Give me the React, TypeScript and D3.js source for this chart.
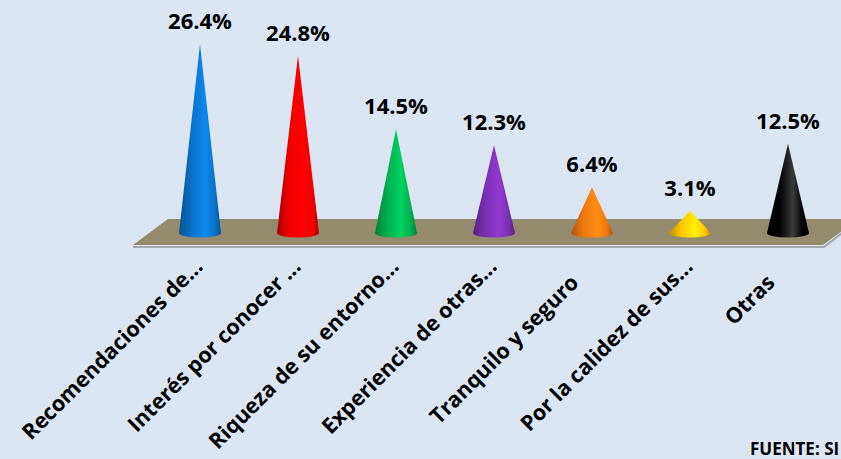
import React from "react";
import * as d3 from "d3";

const categories = [
  "Recomendaciones de...",
  "Interés por conocer ...",
  "Riqueza de su entorno...",
  "Experiencia de otras...",
  "Tranquilo y seguro",
  "Por la calidez de sus...",
  "Otras",
];
const values = [26.4, 24.8, 14.5, 12.3, 6.4, 3.1, 12.5];
const valueLabels = ["26.4%", "24.8%", "14.5%", "12.3%", "6.4%", "3.1%", "12.5%"];
const colors = ["#0a72c8", "#f00000", "#00b050", "#7a30b0", "#f07810", "#ffc800", "#000000"];
const sourceText = "FUENTE: SI";

const W = 841;
const H = 459;
const BASE_Y = 233;

export default function App() {
  const x = d3.scaleBand<string>().domain(categories).range([151, 837]).padding(0);
  const y = d3.scaleLinear().domain([0, 30]).range([BASE_Y, BASE_Y - 7.15 * 30]);
  const r = 21;
  const ry = 4.5;
  const font = "'Open Sans', 'DejaVu Sans', sans-serif";

  return (
    <svg
      width={W}
      height={H}
      style={{ position: "absolute", left: 0, top: 0, display: "block" }}
    >
      <defs>
        {colors.map((c, i) => {
          const base = d3.color(c)!;
          const dark = base.darker(0.9).formatHex();
          const light = c === "#000000" ? "#3a3a3a" : base.brighter(0.5).formatHex();
          return (
            <linearGradient key={i} id={`g${i}`} x1="0" x2="1" y1="0" y2="0">
              <stop offset="0" stopColor={dark} />
              <stop offset="0.3" stopColor={c} />
              <stop offset="0.62" stopColor={light} />
              <stop offset="0.85" stopColor={c} />
              <stop offset="1" stopColor={dark} />
            </linearGradient>
          );
        })}
      </defs>
      <rect x={0} y={0} width={W} height={H} fill="#dce6f2" />
      {/* floor shadow */}
      <path d="M133,247 L824,247 L859,220" fill="none" stroke="#a4a8ae" strokeWidth={2} />
      {/* floor */}
      <path d="M168,219 L858,219 L823,245 L133,245 Z" fill="#948b6f" />
      {categories.map((cat, i) => {
        const cx = (x(cat) ?? 0) + x.bandwidth() / 2;
        const tip = y(values[i]);
        const d = `M${cx - r},${BASE_Y} L${cx},${tip} L${cx + r},${BASE_Y} A${r},${ry} 0 0 1 ${cx - r},${BASE_Y} Z`;
        return (
          <g key={cat}>
            <path d={d} fill={`url(#g${i})`} />
            <text
              x={cx}
              y={tip - 15}
              textAnchor="middle"
              fontFamily={font}
              fontWeight={700}
              fontSize={22}
              fill="#000"
            >
              {valueLabels[i]}
            </text>
          </g>
        );
      })}
      {categories.map((cat, i) => {
        const cx = (x(cat) ?? 0) + x.bandwidth() / 2;
        const trunc = cat.endsWith("...");
        const shift = trunc ? 16 : 0;
        const ax = cx - 12 + shift;
        const ay = 284 - shift;
        return (
          <text
            key={"l" + cat}
            x={ax}
            y={ay}
            transform={`rotate(-45 ${ax} ${ay})`}
            textAnchor="end"
            fontFamily={font}
            fontWeight={700}
            fontSize={21.5}
            fill="#000"
          >
            {cat}
          </text>
        );
      })}
      <text x={750} y={455} fontFamily={font} fontWeight={700} fontSize={17} fill="#000">
        {sourceText}
      </text>
    </svg>
  );
}
